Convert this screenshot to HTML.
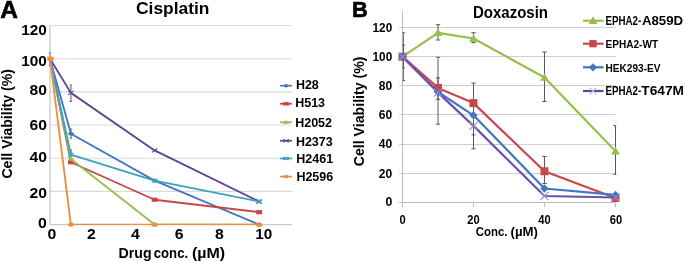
<!DOCTYPE html>
<html><head><meta charset="utf-8"><style>
html,body{margin:0;padding:0;background:#fff;}
svg{display:block;font-family:"Liberation Sans", sans-serif;will-change:transform;}
</style></head><body>
<svg width="685" height="262" viewBox="0 0 685 262">
<rect width="685" height="262" fill="#fff"/>
<line x1="50.0" y1="191.42" x2="292" y2="191.42" stroke="#D9D9D9" stroke-width="1.1"/>
<line x1="50.0" y1="158.24" x2="292" y2="158.24" stroke="#D9D9D9" stroke-width="1.1"/>
<line x1="50.0" y1="125.06" x2="292" y2="125.06" stroke="#D9D9D9" stroke-width="1.1"/>
<line x1="50.0" y1="91.88" x2="292" y2="91.88" stroke="#D9D9D9" stroke-width="1.1"/>
<line x1="50.0" y1="58.70" x2="292" y2="58.70" stroke="#D9D9D9" stroke-width="1.1"/>
<line x1="50.0" y1="25.52" x2="292" y2="25.52" stroke="#D9D9D9" stroke-width="1.1"/>
<line x1="50.0" y1="25.52" x2="50.0" y2="224.6" stroke="#C8C8C8" stroke-width="1.3"/>
<line x1="50.0" y1="224.6" x2="292" y2="224.6" stroke="#C8C8C8" stroke-width="1.3"/>
<path d="M50.00 52.90V65.50M48.70 52.90H51.30M48.70 65.50H51.30" stroke="#808080" stroke-width="1.0" fill="none"/>
<path d="M70.92 85.00V101.30M69.62 85.00H72.22M69.62 101.30H72.22" stroke="#777777" stroke-width="1.2" fill="none"/>
<path d="M70.92 129.19V138.19M69.62 129.19H72.22M69.62 138.19H72.22" stroke="#777777" stroke-width="1.2" fill="none"/>
<path d="M70.92 150.09V159.09M69.62 150.09H72.22M69.62 159.09H72.22" stroke="#777777" stroke-width="1.2" fill="none"/>
<defs><clipPath id="clA"><rect x="0" y="0" width="300" height="224.9"/></clipPath><clipPath id="clB"><rect x="402.4" y="0" width="213.9" height="262"/></clipPath></defs>
<polyline clip-path="url(#clA)" points="50.00,58.70 70.92,133.69 154.60,180.64 259.20,224.60" fill="none" stroke="#4277C2" stroke-width="1.85" stroke-linejoin="round"/>
<path d="M70.92 131.27L74.28 133.69L70.92 136.11L67.56 133.69Z" fill="#4277C2"/>
<path d="M154.6 178.22L157.96 180.64L154.6 183.06L151.24 180.64Z" fill="#4277C2"/>
<path d="M259.2 222.18L262.56 224.6L259.2 227.02L255.84 224.6Z" fill="#4277C2"/>
<polyline clip-path="url(#clA)" points="50.00,58.70 70.92,162.22 154.60,199.72 259.20,212.16" fill="none" stroke="#C9474A" stroke-width="1.85" stroke-linejoin="round"/>
<rect x="67.98" y="160.10" width="5.88" height="4.23" fill="#C9474A"/>
<rect x="151.66" y="197.60" width="5.88" height="4.23" fill="#C9474A"/>
<rect x="256.26" y="210.04" width="5.88" height="4.23" fill="#C9474A"/>
<polyline clip-path="url(#clA)" points="50.00,58.70 70.92,158.90 154.60,224.60 259.20,224.60" fill="none" stroke="#97BF4C" stroke-width="1.85" stroke-linejoin="round"/>
<path d="M70.92 156.33L74.49 160.83L67.35 160.83Z" fill="#97BF4C"/>
<path d="M154.6 222.03L158.17 226.53L151.03 226.53Z" fill="#97BF4C"/>
<path d="M259.2 222.03L262.77 226.53L255.63 226.53Z" fill="#97BF4C"/>
<polyline clip-path="url(#clA)" points="50.00,58.70 70.92,92.88 154.60,150.44 259.20,201.54" fill="none" stroke="#5F4596" stroke-width="1.85" stroke-linejoin="round"/>
<path d="M68.19 90.91L73.65 94.85M73.65 90.91L68.19 94.85" stroke="#5F4596" stroke-width="1.1" fill="none"/>
<path d="M151.87 148.47L157.33 152.41M157.33 148.47L151.87 152.41" stroke="#5F4596" stroke-width="1.1" fill="none"/>
<path d="M256.47 199.57L261.93 203.51M261.93 199.57L256.47 203.51" stroke="#5F4596" stroke-width="1.1" fill="none"/>
<polyline clip-path="url(#clA)" points="50.00,58.70 70.92,154.59 154.60,180.64 259.20,201.54" fill="none" stroke="#3BA1BF" stroke-width="1.85" stroke-linejoin="round"/>
<path d="M68.19 152.62L73.65 156.56M73.65 152.62L68.19 156.56M70.92 152.62L70.92 156.56" stroke="#3BA1BF" stroke-width="1.1" fill="none"/>
<path d="M151.87 178.67L157.33 182.61M157.33 178.67L151.87 182.61M154.6 178.67L154.6 182.61" stroke="#3BA1BF" stroke-width="1.1" fill="none"/>
<path d="M256.47 199.57L261.93 203.51M261.93 199.57L256.47 203.51M259.2 199.57L259.2 203.51" stroke="#3BA1BF" stroke-width="1.1" fill="none"/>
<polyline clip-path="url(#clA)" points="50.00,58.70 70.92,224.60 154.60,224.60 259.20,224.60" fill="none" stroke="#F18B3E" stroke-width="1.85" stroke-linejoin="round"/>
<ellipse cx="50.40" cy="58.70" rx="3.4" ry="2.4" fill="#F18B3E"/>
<ellipse cx="70.92" cy="224.6" rx="2.94" ry="2.12" fill="#F18B3E"/>
<ellipse cx="154.6" cy="224.6" rx="2.94" ry="2.12" fill="#F18B3E"/>
<ellipse cx="259.2" cy="224.6" rx="2.94" ry="2.12" fill="#F18B3E"/>
<line x1="280" y1="85.70" x2="292" y2="85.70" stroke="#4277C2" stroke-width="1.6"/>
<path d="M286 83.76L289.52 85.7L286 87.64L282.48 85.7Z" fill="#4277C2"/>
<text x="295.9" y="89.3" font-size="12.5" font-weight="bold" fill="#000" text-anchor="start">H28</text>
<line x1="280" y1="103.80" x2="292" y2="103.80" stroke="#C9474A" stroke-width="1.6"/>
<rect x="282.92" y="102.11" width="6.16" height="3.39" fill="#C9474A"/>
<text x="295.2" y="107.2" font-size="12.5" font-weight="bold" fill="#000" text-anchor="start">H513</text>
<line x1="280" y1="122.20" x2="292" y2="122.20" stroke="#97BF4C" stroke-width="1.6"/>
<path d="M286 120.14L289.74 123.74L282.26 123.74Z" fill="#97BF4C"/>
<text x="295.2" y="126.6" font-size="12.5" font-weight="bold" fill="#000" text-anchor="start">H2052</text>
<line x1="280" y1="140.80" x2="292" y2="140.80" stroke="#5F4596" stroke-width="1.6"/>
<path d="M283.14 139.23L288.86 142.37M288.86 139.23L283.14 142.37" stroke="#5F4596" stroke-width="1.1" fill="none"/>
<text x="295.9" y="145.6" font-size="12.5" font-weight="bold" fill="#000" text-anchor="start">H2373</text>
<line x1="280" y1="158.50" x2="292" y2="158.50" stroke="#3BA1BF" stroke-width="1.6"/>
<path d="M283.14 156.93L288.86 160.07M288.86 156.93L283.14 160.07M286 156.93L286 160.07" stroke="#3BA1BF" stroke-width="1.1" fill="none"/>
<text x="296.3" y="163.0" font-size="12.5" font-weight="bold" fill="#000" text-anchor="start">H2461</text>
<line x1="280" y1="176.60" x2="292" y2="176.60" stroke="#F18B3E" stroke-width="1.6"/>
<ellipse cx="286" cy="176.6" rx="3.08" ry="1.69" fill="#F18B3E"/>
<text x="296.4" y="181.4" font-size="12.5" font-weight="bold" fill="#000" text-anchor="start">H2596</text>
<text x="0.2" y="17.6" font-size="24.5" font-weight="bold" fill="#000" text-anchor="start" stroke="#000" stroke-width="0.6">A</text>
<text x="136" y="13.8" font-size="17" font-weight="bold" fill="#000" text-anchor="start" textLength="73.5" lengthAdjust="spacingAndGlyphs">Cisplatin</text>
<text x="46.9" y="35.2" font-size="14" font-weight="bold" fill="#000" text-anchor="end" textLength="25.6" lengthAdjust="spacingAndGlyphs">120</text>
<text x="46.9" y="66" font-size="14" font-weight="bold" fill="#000" text-anchor="end" textLength="25.6" lengthAdjust="spacingAndGlyphs">100</text>
<text x="46.9" y="95.3" font-size="14" font-weight="bold" fill="#000" text-anchor="end" textLength="17.4" lengthAdjust="spacingAndGlyphs">80</text>
<text x="46.9" y="130.3" font-size="14" font-weight="bold" fill="#000" text-anchor="end" textLength="17.4" lengthAdjust="spacingAndGlyphs">60</text>
<text x="46.9" y="162" font-size="14" font-weight="bold" fill="#000" text-anchor="end" textLength="17.4" lengthAdjust="spacingAndGlyphs">40</text>
<text x="46.9" y="197.8" font-size="14" font-weight="bold" fill="#000" text-anchor="end" textLength="17.4" lengthAdjust="spacingAndGlyphs">20</text>
<text x="46.9" y="228.2" font-size="14" font-weight="bold" fill="#000" text-anchor="end" textLength="8.8" lengthAdjust="spacingAndGlyphs">0</text>
<text x="52" y="238.9" font-size="14" font-weight="bold" fill="#000" text-anchor="middle" textLength="8.8" lengthAdjust="spacingAndGlyphs">0</text>
<text x="91.5" y="238.9" font-size="14" font-weight="bold" fill="#000" text-anchor="middle" textLength="8.8" lengthAdjust="spacingAndGlyphs">2</text>
<text x="135.4" y="238.9" font-size="14" font-weight="bold" fill="#000" text-anchor="middle" textLength="8.8" lengthAdjust="spacingAndGlyphs">4</text>
<text x="179.2" y="238.9" font-size="14" font-weight="bold" fill="#000" text-anchor="middle" textLength="8.8" lengthAdjust="spacingAndGlyphs">6</text>
<text x="219.3" y="238.9" font-size="14" font-weight="bold" fill="#000" text-anchor="middle" textLength="8.8" lengthAdjust="spacingAndGlyphs">8</text>
<text x="263.8" y="238.9" font-size="14" font-weight="bold" fill="#000" text-anchor="middle" textLength="17" lengthAdjust="spacingAndGlyphs">10</text>
<text x="118.6" y="257.5" font-size="15" font-weight="bold" fill="#000" text-anchor="start" textLength="33.0" lengthAdjust="spacingAndGlyphs">Drug</text>
<text x="153.8" y="257.5" font-size="15" font-weight="bold" fill="#000" text-anchor="start" textLength="34.3" lengthAdjust="spacingAndGlyphs">conc.</text>
<text x="192.0" y="257.5" font-size="15" font-weight="bold" fill="#000" text-anchor="start" textLength="33.2" lengthAdjust="spacingAndGlyphs">(µM)</text>
<text transform="translate(12.1,178.6) rotate(-90)" x="0" y="0" font-size="14.4" font-weight="bold" textLength="109.6" lengthAdjust="spacingAndGlyphs">Cell Viability (%)</text>
<line x1="399.0" y1="173.5" x2="615.5" y2="173.5" stroke="#CFCFCF" stroke-width="1"/>
<line x1="399.0" y1="144.5" x2="615.5" y2="144.5" stroke="#CFCFCF" stroke-width="1"/>
<line x1="399.0" y1="114.5" x2="615.5" y2="114.5" stroke="#CFCFCF" stroke-width="1"/>
<line x1="399.0" y1="85.5" x2="615.5" y2="85.5" stroke="#CFCFCF" stroke-width="1"/>
<line x1="399.0" y1="56.5" x2="615.5" y2="56.5" stroke="#CFCFCF" stroke-width="1"/>
<line x1="399.0" y1="27.5" x2="615.5" y2="27.5" stroke="#CFCFCF" stroke-width="1"/>
<line x1="399.0" y1="202.5" x2="615.5" y2="202.5" stroke="#BDBDBD" stroke-width="1"/>
<line x1="402.5" y1="11" x2="402.5" y2="207.0" stroke="#BDBDBD" stroke-width="1"/>
<line x1="473.5" y1="202.5" x2="473.5" y2="207.0" stroke="#BDBDBD" stroke-width="1"/>
<line x1="544.5" y1="202.5" x2="544.5" y2="207.0" stroke="#BDBDBD" stroke-width="1"/>
<line x1="615.5" y1="202.5" x2="615.5" y2="207.0" stroke="#BDBDBD" stroke-width="1"/>
<g clip-path="url(#clB)">
<path d="M403.30 32.80V80.60M401.50 32.80H405.10M401.50 80.60H405.10" stroke="#5A5A5A" stroke-width="1" fill="none"/>
<path d="M403.30 45.00V67.80M401.50 45.00H405.10M401.50 67.80H405.10" stroke="#5A5A5A" stroke-width="1" fill="none"/>
<path d="M438.00 24.70V40.00M435.80 24.70H440.20M435.80 40.00H440.20" stroke="#5A5A5A" stroke-width="1" fill="none"/>
<path d="M438.00 57.30V124.20M435.80 57.30H440.20M435.80 124.20H440.20" stroke="#5A5A5A" stroke-width="1" fill="none"/>
<path d="M438.00 77.90V99.30M435.80 77.90H440.20M435.80 99.30H440.20" stroke="#5A5A5A" stroke-width="1" fill="none"/>
<path d="M473.50 32.70V42.60M471.30 32.70H475.70M471.30 42.60H475.70" stroke="#5A5A5A" stroke-width="1" fill="none"/>
<path d="M473.50 83.00V148.80M471.30 83.00H475.70M471.30 148.80H475.70" stroke="#5A5A5A" stroke-width="1" fill="none"/>
<path d="M473.50 116.90V134.90M471.50 116.90H475.50M471.50 134.90H475.50" stroke="#5A5A5A" stroke-width="1" fill="none"/>
<path d="M544.50 52.00V101.50M542.30 52.00H546.70M542.30 101.50H546.70" stroke="#5A5A5A" stroke-width="1" fill="none"/>
<path d="M544.50 156.50V183.50M542.30 156.50H546.70M542.30 183.50H546.70" stroke="#5A5A5A" stroke-width="1" fill="none"/>
<path d="M615.50 125.60V174.30M613.30 125.60H617.70M613.30 174.30H617.70" stroke="#5A5A5A" stroke-width="1" fill="none"/>
</g>
<polyline points="402.50,56.70 438.00,32.80 473.50,38.50 544.50,77.50 615.50,151.20" fill="none" stroke="#97BF4C" stroke-width="2.2" stroke-linejoin="round"/>
<path d="M402.5 52.35L406.85 59.96L398.15 59.96Z" fill="#97BF4C"/>
<path d="M438.0 28.45L442.35 36.06L433.65 36.06Z" fill="#97BF4C"/>
<path d="M473.5 34.15L477.85 41.76L469.15 41.76Z" fill="#97BF4C"/>
<path d="M544.5 73.15L548.85 80.76L540.15 80.76Z" fill="#97BF4C"/>
<path d="M615.5 146.85L619.85 154.46L611.15 154.46Z" fill="#97BF4C"/>
<polyline points="402.50,56.70 438.00,87.90 473.50,103.10 544.50,171.30 615.50,198.00" fill="none" stroke="#C9474A" stroke-width="2.2" stroke-linejoin="round"/>
<rect x="398.52" y="52.72" width="7.95" height="7.95" fill="#C9474A"/>
<rect x="434.02" y="83.92" width="7.95" height="7.95" fill="#C9474A"/>
<rect x="469.52" y="99.12" width="7.95" height="7.95" fill="#C9474A"/>
<rect x="540.52" y="167.32" width="7.95" height="7.95" fill="#C9474A"/>
<rect x="611.52" y="194.02" width="7.95" height="7.95" fill="#C9474A"/>
<polyline points="402.50,56.70 438.00,92.00 473.50,115.30 544.50,188.50 615.50,194.90" fill="none" stroke="#4277C2" stroke-width="2.2" stroke-linejoin="round"/>
<path d="M402.5 52.54L406.66 56.7L402.5 60.86L398.34 56.7Z" fill="#4277C2"/>
<path d="M438.0 87.84L442.16 92.0L438.0 96.16L433.84 92.0Z" fill="#4277C2"/>
<path d="M473.5 111.14L477.66 115.3L473.5 119.46L469.34 115.3Z" fill="#4277C2"/>
<path d="M544.5 184.34L548.66 188.5L544.5 192.66L540.34 188.5Z" fill="#4277C2"/>
<path d="M615.5 190.74L619.66 194.9L615.5 199.06L611.34 194.9Z" fill="#4277C2"/>
<polyline points="402.50,56.70 438.00,92.60 473.50,125.90 544.50,196.00 615.50,197.50" fill="none" stroke="#6C51A5" stroke-width="2.2" stroke-linejoin="round"/>
<path d="M398.47 52.67L406.53 60.73M406.53 52.67L398.47 60.73" stroke="#9E8CC4" stroke-width="1.1" fill="none"/>
<path d="M433.97 88.57L442.03 96.63M442.03 88.57L433.97 96.63" stroke="#9E8CC4" stroke-width="1.1" fill="none"/>
<path d="M469.47 121.87L477.53 129.93M477.53 121.87L469.47 129.93" stroke="#9E8CC4" stroke-width="1.1" fill="none"/>
<path d="M540.47 191.97L548.53 200.03M548.53 191.97L540.47 200.03" stroke="#9E8CC4" stroke-width="1.1" fill="none"/>
<path d="M611.47 193.47L619.53 201.53M619.53 193.47L611.47 201.53" stroke="#9E8CC4" stroke-width="1.1" fill="none"/>
<line x1="583" y1="20.7" x2="603.5" y2="20.7" stroke="#97BF4C" stroke-width="2.2"/>
<path d="M593 16.28L597.42 24.02L588.58 24.02Z" fill="#97BF4C"/>
<line x1="583" y1="43.7" x2="603.5" y2="43.7" stroke="#C9474A" stroke-width="2.2"/>
<rect x="589.36" y="40.06" width="7.28" height="7.28" fill="#C9474A"/>
<line x1="583" y1="67.3" x2="603.5" y2="67.3" stroke="#4277C2" stroke-width="2.2"/>
<path d="M593 63.14L597.16 67.3L593 71.46L588.84 67.3Z" fill="#4277C2"/>
<line x1="583" y1="91.0" x2="603.5" y2="91.0" stroke="#5F4596" stroke-width="2.2"/>
<path d="M589.62 87.62L596.38 94.38M596.38 87.62L589.62 94.38" stroke="#C2B2DC" stroke-width="1.1" fill="none"/>
<text x="605.5" y="25.0" font-size="12.2" font-weight="bold" fill="#000" text-anchor="start" textLength="35.8" lengthAdjust="spacingAndGlyphs">EPHA2-</text>
<text x="641.9" y="25.2" font-size="13" font-weight="bold" fill="#000" text-anchor="start" textLength="41.2" lengthAdjust="spacingAndGlyphs">A859D</text>
<text x="605.5" y="48.2" font-size="11.8" font-weight="bold" fill="#000" text-anchor="start" textLength="52.6" lengthAdjust="spacingAndGlyphs">EPHA2-WT</text>
<text x="605.5" y="71.7" font-size="11.6" font-weight="bold" fill="#000" text-anchor="start" textLength="55" lengthAdjust="spacingAndGlyphs">HEK293-EV</text>
<text x="605.5" y="94.9" font-size="12.2" font-weight="bold" fill="#000" text-anchor="start" textLength="35.8" lengthAdjust="spacingAndGlyphs">EPHA2-</text>
<text x="641.3" y="95.1" font-size="13" font-weight="bold" fill="#000" text-anchor="start" textLength="42.6" lengthAdjust="spacingAndGlyphs">T647M</text>
<text x="352.0" y="17.2" font-size="22.6" font-weight="bold" fill="#000" text-anchor="start" textLength="15.8" lengthAdjust="spacingAndGlyphs" stroke="#000" stroke-width="0.6">B</text>
<text x="473.0" y="18.4" font-size="16" font-weight="bold" fill="#000" text-anchor="start" textLength="75" lengthAdjust="spacingAndGlyphs">Doxazosin</text>
<text x="392.2" y="31.8" font-size="12.3" font-weight="bold" fill="#000" text-anchor="end" textLength="19.6" lengthAdjust="spacingAndGlyphs">120</text>
<text x="392.2" y="60.6" font-size="12.3" font-weight="bold" fill="#000" text-anchor="end" textLength="19.6" lengthAdjust="spacingAndGlyphs">100</text>
<text x="392.2" y="89.8" font-size="12.3" font-weight="bold" fill="#000" text-anchor="end" textLength="13.4" lengthAdjust="spacingAndGlyphs">80</text>
<text x="392.2" y="118.9" font-size="12.3" font-weight="bold" fill="#000" text-anchor="end" textLength="13.4" lengthAdjust="spacingAndGlyphs">60</text>
<text x="392.2" y="148" font-size="12.3" font-weight="bold" fill="#000" text-anchor="end" textLength="13.4" lengthAdjust="spacingAndGlyphs">40</text>
<text x="392.2" y="177.8" font-size="12.3" font-weight="bold" fill="#000" text-anchor="end" textLength="13.4" lengthAdjust="spacingAndGlyphs">20</text>
<text x="392.2" y="206" font-size="12.3" font-weight="bold" fill="#000" text-anchor="end" textLength="6.8" lengthAdjust="spacingAndGlyphs">0</text>
<text x="402.5" y="224.3" font-size="12.3" font-weight="bold" fill="#000" text-anchor="middle" textLength="6.2" lengthAdjust="spacingAndGlyphs">0</text>
<text x="473.5" y="224.3" font-size="12.3" font-weight="bold" fill="#000" text-anchor="middle" textLength="12.4" lengthAdjust="spacingAndGlyphs">20</text>
<text x="544.4" y="224.3" font-size="12.3" font-weight="bold" fill="#000" text-anchor="middle" textLength="12.4" lengthAdjust="spacingAndGlyphs">40</text>
<text x="616" y="224.3" font-size="12.3" font-weight="bold" fill="#000" text-anchor="middle" textLength="12.4" lengthAdjust="spacingAndGlyphs">60</text>
<text x="475.7" y="236.2" font-size="13.5" font-weight="bold" fill="#000" text-anchor="start" textLength="31.8" lengthAdjust="spacingAndGlyphs">Conc.</text>
<text x="510.5" y="236.2" font-size="13.5" font-weight="bold" fill="#000" text-anchor="start" textLength="27.4" lengthAdjust="spacingAndGlyphs">(µM)</text>
<text transform="translate(364.2,166.3) rotate(-90)" x="0" y="0" font-size="14" font-weight="bold" textLength="109.9" lengthAdjust="spacingAndGlyphs">Cell Viability (%)</text>
</svg>
</body></html>
